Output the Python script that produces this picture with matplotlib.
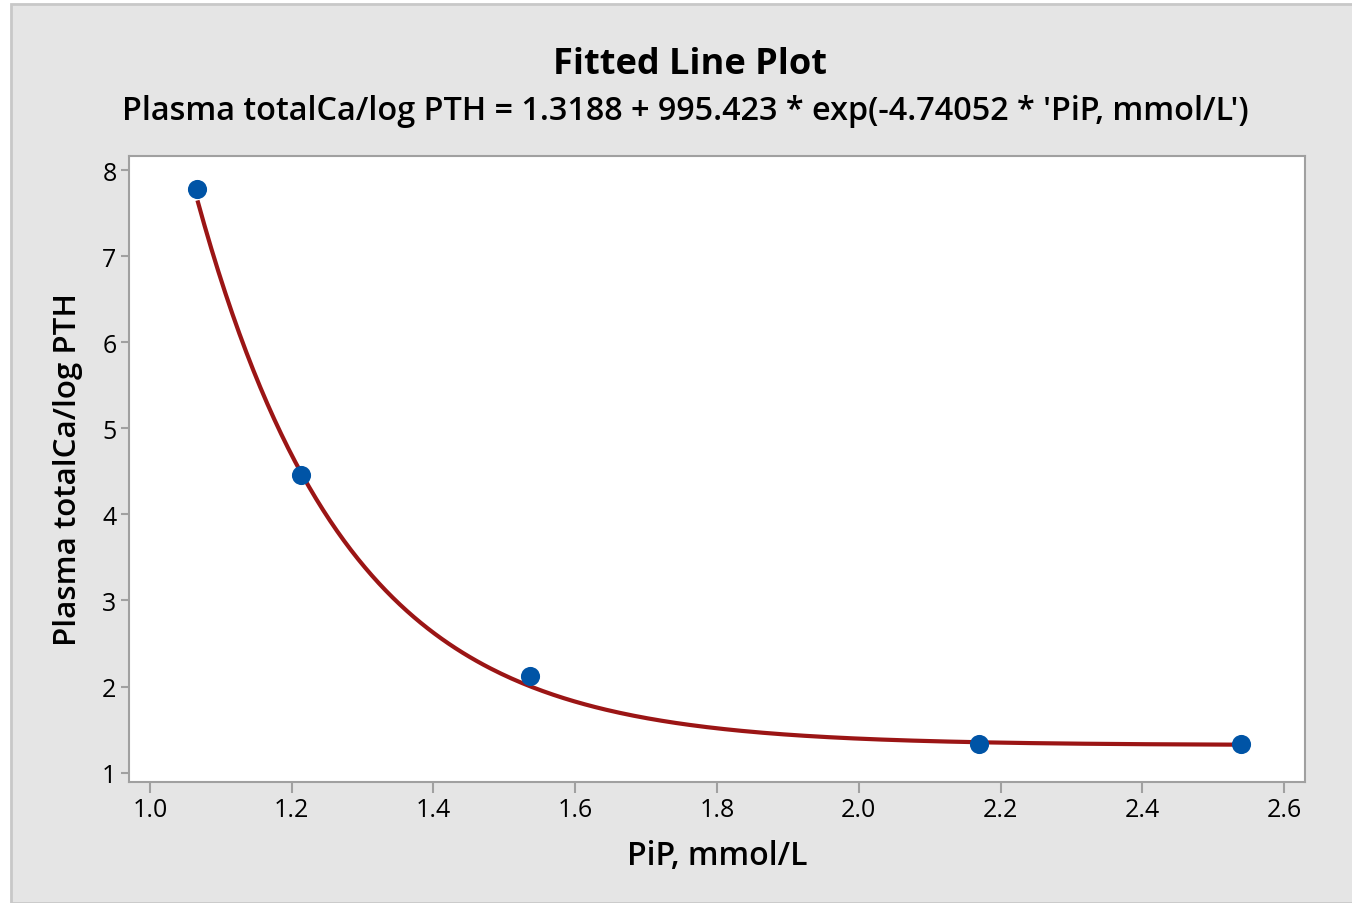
import numpy as np
import matplotlib
matplotlib.use("Agg")
from matplotlib import pyplot as plt
from matplotlib.patches import Rectangle

# observed points
pip_x = [1.067, 1.213, 1.536, 2.170, 2.539]
ratio_y = [7.78, 4.46, 2.12, 1.33, 1.33]

# fitted model shown in the subtitle
b0, b1, b2 = 1.3188, 995.423, -4.74052

x_ticks = [1.0, 1.2, 1.4, 1.6, 1.8, 2.0, 2.2, 2.4, 2.6]
y_ticks = [1, 2, 3, 4, 5, 6, 7, 8]

plt.rcParams['font.family'] = ['Open Sans', 'DejaVu Sans']

W, H = 1352, 904
fig = plt.figure(figsize=(W / 100, H / 100), dpi=100, facecolor='white')
fig.patches.append(Rectangle((11 / W, 0), 1, 1 - 5 / H, transform=fig.transFigure,
                             facecolor='#e5e5e5', edgecolor='#c8c8c8', linewidth=2, zorder=-10))

ax = fig.add_axes([129 / W, 1 - 783 / H, (1305 - 129) / W, (783 - 157) / H])
ax.set_facecolor('white')

xs = np.linspace(min(pip_x), max(pip_x), 300)
ax.plot(xs, b0 + b1 * np.exp(b2 * xs), color='#9b1515', linewidth=3, zorder=2,
        solid_capstyle='butt')
ax.scatter(pip_x, ratio_y, s=190, color='#0054a6', zorder=3, linewidths=0)

ax.set_xlim(0.9704, 2.6296)
ax.set_ylim(0.891, 8.163)
ax.set_xticks(x_ticks, [f'{v:.1f}' for v in x_ticks])
ax.set_yticks(y_ticks, [str(v) for v in y_ticks])

for s in ax.spines.values():
    s.set_color('#a0a0a0')
    s.set_linewidth(1.5)
ax.tick_params(direction='out', color='#a0a0a0', width=1.5, labelsize=18, pad=3)
ax.tick_params(axis='x', length=8)
ax.tick_params(axis='y', length=6)

ax.set_xlabel('PiP, mmol/L', fontsize=23, fontweight='semibold', labelpad=12)
ax.set_ylabel('Plasma totalCa/log PTH', fontsize=22.5, fontweight='semibold', labelpad=14)

fig.text(690 / W, 1 - 65 / H, 'Fitted Line Plot', ha='center', va='center',
         fontsize=26, fontweight='bold')
fig.text(685 / W, 1 - 112 / H,
         "Plasma totalCa/log PTH = 1.3188 + 995.423 * exp(-4.74052 * 'PiP, mmol/L')",
         ha='center', va='center', fontsize=23.3, fontweight='semibold')

fig.savefig('out.png', dpi=100, facecolor=fig.get_facecolor())
